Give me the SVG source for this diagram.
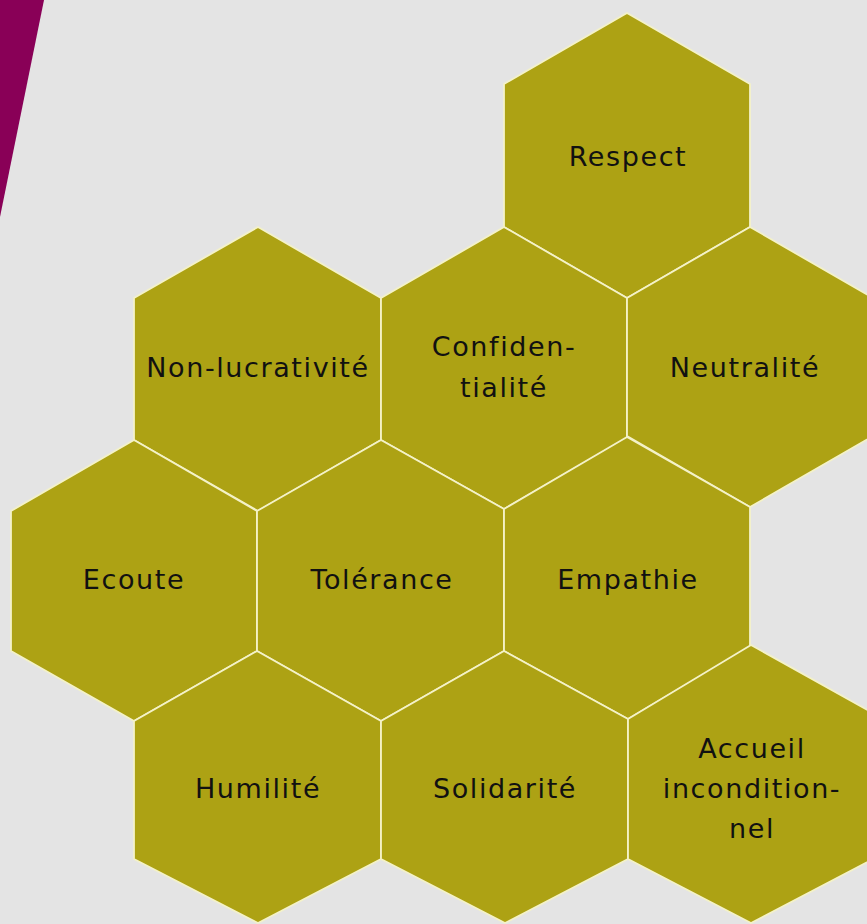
<svg xmlns="http://www.w3.org/2000/svg" width="867" height="924" viewBox="0 0 867 924">
  <style>
    .hex { fill: #ADA214; stroke: #F4F2C8; stroke-width: 1.8; stroke-linejoin: round; }
    .lbl { font-family: "DejaVu Sans", "Liberation Sans", sans-serif; font-size: 27px; letter-spacing: 1.6px; fill: #111111; text-anchor: middle; }
  </style>
  <rect x="0" y="0" width="867" height="924" fill="#E4E4E4"/>
  <polygon points="0,0 44,0 0,217" fill="#890057"/>

  <g id="connectors"></g>

  <g id="respect">
    <polygon class="hex" points="627,13 750,84 750,227 627,298 504,227 504,84"/>
    <text class="lbl" x="628" y="166">Respect</text>
  </g>

  <g id="non-lucrativite">
    <polygon class="hex" points="258,227 381,298 381,440 258,511 134,440 134,298"/>
    <text class="lbl" x="258" y="377">Non-lucrativité</text>
  </g>

  <g id="confidentialite">
    <polygon class="hex" points="504,227 627,298 627,438 504,509 381,440 381,298"/>
    <text class="lbl" x="504" y="356">Confiden-</text>
    <text class="lbl" x="504" y="397">tialité</text>
  </g>

  <g id="neutralite">
    <polygon class="hex" points="750,227 873,298 873,436 750,507 627,436 627,298"/>
    <text class="lbl" x="745" y="377">Neutralité</text>
  </g>

  <g id="ecoute">
    <polygon class="hex" points="134,440 257,511 257,651 134,721 11,651 11,511"/>
    <text class="lbl" x="134" y="589">Ecoute</text>
  </g>

  <g id="tolerance">
    <polygon class="hex" points="381,440 504,509 504,651 381,721 257,651 257,511"/>
    <text class="lbl" x="382" y="589">Tolérance</text>
  </g>

  <g id="empathie">
    <polygon class="hex" points="627,437 750,507 750,647 628,719 504,651 504,509"/>
    <text class="lbl" x="628" y="589">Empathie</text>
  </g>

  <g id="humilite">
    <polygon class="hex" points="257,651 381,721 381,859 258,923 134,859 134,721"/>
    <text class="lbl" x="258" y="798">Humilité</text>
  </g>

  <g id="solidarite">
    <polygon class="hex" points="504,651 628,719 628,859 505,923 381,859 381,721"/>
    <text class="lbl" x="505" y="798">Solidarité</text>
  </g>

  <g id="accueil">
    <polygon class="hex" points="751,645 873,713 873,859 751,923 628,859 628,719"/>
    <text class="lbl" x="752" y="758">Accueil</text>
    <text class="lbl" x="752" y="798">incondition-</text>
    <text class="lbl" x="752" y="838">nel</text>
  </g>
</svg>
